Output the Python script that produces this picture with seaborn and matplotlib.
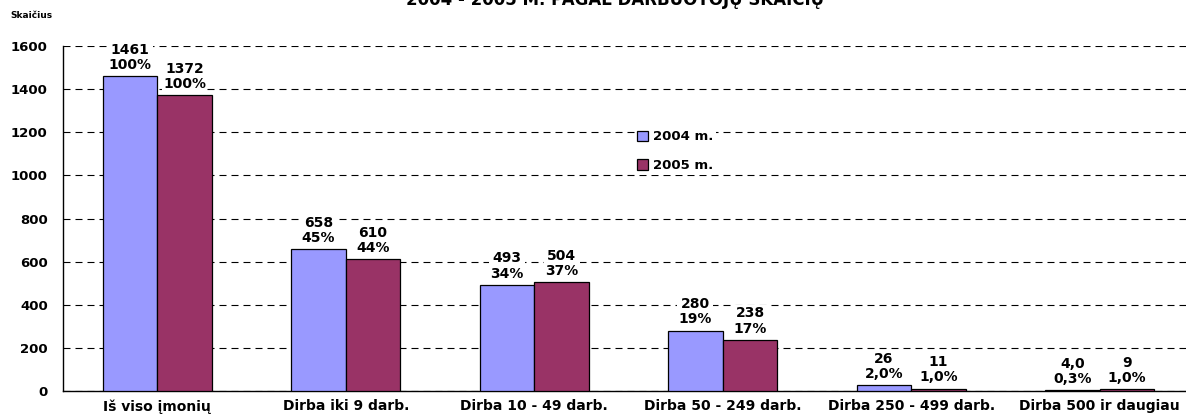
import matplotlib
matplotlib.use("Agg")
import matplotlib.pyplot as plt
import seaborn as sns
import pandas as pd
import numpy as np

categories = ["Iš viso įmonių", "Dirba iki 9 darb.", "Dirba 10 - 49 darb.",
              "Dirba 50 - 249 darb.", "Dirba 250 - 499 darb.", "Dirba 500 ir daugiau"]
series_names = ["2004 m.", "2005 m."]
values_2004 = [1461, 658, 493, 280, 26, 4]
values_2005 = [1372, 610, 504, 238, 11, 9]
labels_2004 = ["1461\n100%", "658\n45%", "493\n34%", "280\n19%", "26\n2,0%", "4,0\n0,3%"]
labels_2005 = ["1372\n100%", "610\n44%", "504\n37%", "238\n17%", "11\n1,0%", "9\n1,0%"]
yticks = [0, 200, 400, 600, 800, 1000, 1200, 1400, 1600]
title = "2004 - 2005 M. PAGAL DARBUOTOJŲ SKAIČIŲ"
ylabel = "Skaičius"

sns.set_style("white")
plt.rcParams['font.family'] = ['DejaVu Sans']
plt.rcParams['text.color'] = 'black'
plt.rcParams['xtick.color'] = 'black'
plt.rcParams['ytick.color'] = 'black'
plt.rcParams['xtick.labelcolor'] = 'black'
plt.rcParams['ytick.labelcolor'] = 'black'

df = pd.DataFrame({
    "cat": categories * 2,
    "series": [series_names[0]] * 6 + [series_names[1]] * 6,
    "val": values_2004 + values_2005,
})

fig = plt.figure(figsize=(11.86, 4.16), dpi=100)
ax = fig.add_axes([63/1186, 25/416, 1131/1186, 345/416])

sns.barplot(data=df, x="cat", y="val", hue="series", order=categories,
            hue_order=series_names, palette=["#9999FF", "#993366"], saturation=1,
            width=0.58, edgecolor="black", linewidth=0.9, ax=ax, zorder=3)

ax.set_xlim(-0.5, 5.5)
ax.set_ylim(0, 1600)
ax.set_yticks(yticks)
ax.set_yticklabels([str(t) for t in yticks], fontweight="bold", fontsize=9.5, color="black")
ax.yaxis.grid(True, linestyle=(0, (6.3, 4.5)), color="black", linewidth=0.8, zorder=0)
ax.set_axisbelow(True)
ax.set_xlabel("")
ax.set_ylabel("")
ax.set_xticks(range(6))
ax.set_xticklabels(categories, fontweight="bold", fontsize=10, color="black")
ax.tick_params(axis="x", which="major", length=0, pad=6)
ax.set_xticks(np.arange(-0.5, 6.0, 1.0), minor=True)
ax.tick_params(axis="x", which="minor", length=5, color="black", direction="out")
ax.tick_params(axis="y", length=5, color="black", direction="out", pad=6)
for s in ["top", "right"]:
    ax.spines[s].set_visible(False)
for s in ["left", "bottom"]:
    ax.spines[s].set_color("black")
    ax.spines[s].set_linewidth(1.0)

for cont, labs in zip(ax.containers, [labels_2004, labels_2005]):
    texts = ax.bar_label(cont, labels=labs, padding=3, fontsize=10, fontweight="bold",
                         linespacing=1.1, color="black")
    for t in texts:
        t.set_bbox(dict(facecolor="white", edgecolor="none", pad=1))
        t.set_zorder(5)

leg = ax.legend(loc="upper left", bbox_to_anchor=(628/1186, 295/416),
                bbox_transform=fig.transFigure, frameon=True, fancybox=False,
                facecolor="white", edgecolor="none", framealpha=1,
                prop={"weight": "bold", "size": 9.5},
                handlelength=0.8, handleheight=0.8, handletextpad=0.4,
                labelspacing=1.2, borderpad=0.2)
leg.set_zorder(6)

fig.text(0.5186, 1 - 5/416, title, ha="center", va="baseline", fontweight="bold", fontsize=12)
fig.text(10/1186, 1 - 16/416, ylabel, ha="left", va="center", fontweight="bold", fontsize=6.5)

fig.savefig("out.png", dpi=100)
